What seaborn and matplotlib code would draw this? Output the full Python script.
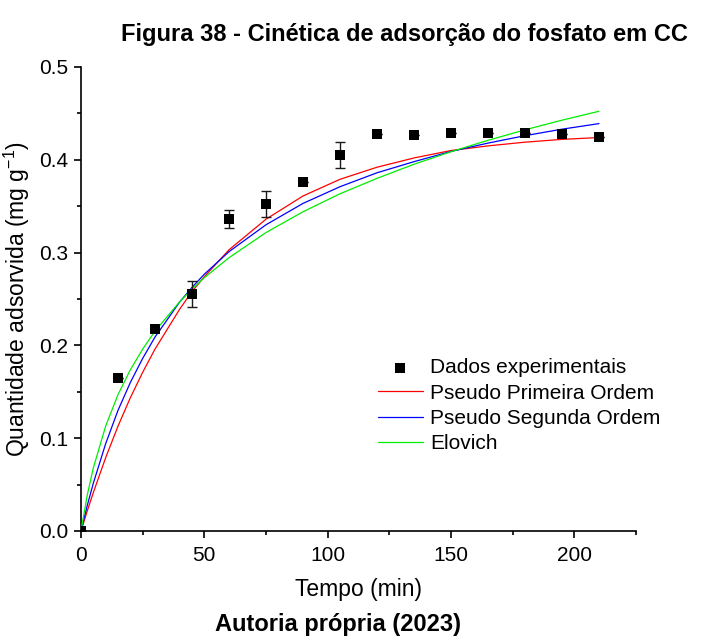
import matplotlib
matplotlib.use("Agg")
import matplotlib.pyplot as plt
import seaborn as sns
import pandas as pd

# Experimental kinetics: time (min), adsorbed amount (mg/g) and standard deviation
tempo = [0, 15, 30, 45, 60, 75, 90, 105, 120, 135, 150, 165, 180, 195, 210]
q_exp = [0.000, 0.165, 0.218, 0.255, 0.336, 0.352, 0.376, 0.405, 0.428, 0.427,
         0.429, 0.429, 0.429, 0.428, 0.425]
q_err = [0.0, 0.0, 0.0, 0.014, 0.010, 0.014, 0.0, 0.014, 0.0, 0.0,
         0.0, 0.0, 0.0, 0.0, 0.0]

# Fitted model curves sampled along time
t_fit = [0, 2.5, 5, 10, 15, 20, 25, 30, 40, 45, 50, 60, 75, 90, 105, 120,
         135, 150, 165, 180, 195, 210]
q_pfo = [0.0, 0.0213, 0.0415, 0.079, 0.113, 0.1436, 0.171, 0.196, 0.239, 0.258,
         0.274, 0.303, 0.336, 0.361, 0.379, 0.392, 0.402, 0.410, 0.415, 0.419,
         0.422, 0.424]
q_pso = [0.0, 0.0271, 0.0515, 0.0941, 0.130, 0.160, 0.186, 0.209, 0.2468, 0.2625,
         0.2767, 0.301, 0.330, 0.353, 0.371, 0.386, 0.398, 0.409, 0.418, 0.426,
         0.433, 0.439]
q_elo = [0.0, 0.0382, 0.068, 0.113, 0.147, 0.1737, 0.196, 0.2154, 0.247, 0.2607,
         0.273, 0.2945, 0.3216, 0.344, 0.3634, 0.380, 0.3952, 0.4087, 0.421, 0.4323,
         0.4427, 0.4523]

sns.set_theme(style="ticks")
plt.rcParams["font.family"] = ["Liberation Sans", "DejaVu Sans"]
plt.rcParams["mathtext.fontset"] = "custom"
plt.rcParams["mathtext.rm"] = "Liberation Sans"
plt.rcParams["mathtext.it"] = "Liberation Sans:italic"
plt.rcParams["text.color"] = "black"
plt.rcParams["axes.labelcolor"] = "black"

fig = plt.figure(figsize=(7.07, 6.39), dpi=100)
ax = fig.add_axes([81 / 707, 1 - 531 / 639, 555 / 707, 464 / 639])

exp_df = pd.DataFrame({"t": tempo, "q": q_exp, "err": q_err})
fit_df = pd.DataFrame({"t": t_fit, "pfo": q_pfo, "pso": q_pso, "elo": q_elo})

sns.lineplot(data=fit_df, x="t", y="pfo", ax=ax, color="#ff0000", lw=0.9,
             label="Pseudo Primeira Ordem", zorder=3)
sns.lineplot(data=fit_df, x="t", y="pso", ax=ax, color="#0000ff", lw=0.9,
             label="Pseudo Segunda Ordem", zorder=3)
sns.lineplot(data=fit_df, x="t", y="elo", ax=ax, color="#00ee00", lw=0.9,
             label="Elovich", zorder=3)

ax.errorbar(exp_df["t"], exp_df["q"], yerr=exp_df["err"], fmt="none",
            ecolor="#1a1a1a", elinewidth=1.0, capsize=3.3, capthick=1.0, zorder=4)
sns.scatterplot(data=exp_df, x="t", y="q", ax=ax, marker="s", s=55,
                color="black", edgecolor="black", linewidth=0,
                label="Dados experimentais", zorder=5)

ax.set_xlim(0, 225)
ax.set_ylim(0, 0.5)
ax.set_xticks([0, 50, 100, 150, 200])
ax.set_xticks([25, 75, 125, 175, 225], minor=True)
ax.set_yticks([0.0, 0.1, 0.2, 0.3, 0.4, 0.5])
ax.set_yticks([0.05, 0.15, 0.25, 0.35, 0.45], minor=True)
ax.set_yticklabels(["0.0", "0.1", "0.2", "0.3", "0.4", "0.5"])

for side in ("top", "right"):
    ax.spines[side].set_visible(False)
for side in ("left", "bottom"):
    ax.spines[side].set_linewidth(1.2)
    ax.spines[side].set_color("black")

ax.tick_params(axis="both", which="major", direction="out", length=5,
               width=1.2, labelsize=15, colors="black", pad=4)
ax.tick_params(axis="x", which="major", pad=6)
ax.tick_params(axis="both", which="minor", direction="out", length=3,
               width=1.2, colors="black")

ax.set_xlabel("Tempo (min)", fontsize=16.5, labelpad=9)
ax.set_ylabel("Quantidade adsorvida (mg g$^{-1}$)", fontsize=16.5, labelpad=5)

handles, labels = ax.get_legend_handles_labels()
order = [labels.index("Dados experimentais"), labels.index("Pseudo Primeira Ordem"),
         labels.index("Pseudo Segunda Ordem"), labels.index("Elovich")]
ax.legend([handles[i] for i in order], [labels[i] for i in order],
          loc="upper left", bbox_to_anchor=(0.535, 0.372), frameon=False,
          fontsize=15, handlelength=2.16, handletextpad=0.34, labelspacing=0.3,
          borderpad=0, borderaxespad=0)

fig.text(404 / 707, 1 - 34 / 639, "Figura 38 - Cinética de adsorção do fosfato em CC",
         ha="center", va="center", fontsize=17, fontweight="bold")
fig.text(338 / 707, 1 - 625 / 639, "Autoria própria (2023)",
         ha="center", va="center", fontsize=17, fontweight="bold")

fig.savefig("out.png", dpi=100, facecolor="white")
